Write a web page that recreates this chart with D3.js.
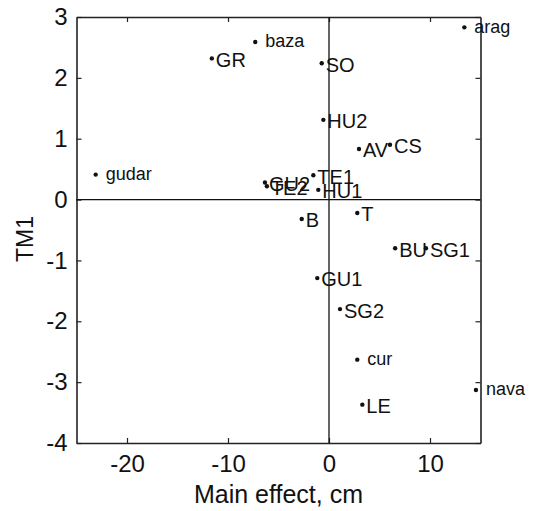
<!DOCTYPE html>
<html lang="en">
<head>
	<meta charset="utf-8">
	<title>TM1 vs main effect</title>
	<script src="https://d3js.org/d3.v7.min.js" charset="utf-8"></script>
	<style>
		body { margin: 0; background: #fff; }
		svg text { font-family: "Liberation Sans", Arial, sans-serif; fill: #111; }
	</style>
</head>
<body>
	<script>
		// site / provenance names, main effect (cm) and TM1 score
		var names   = ["gudar", "GR", "baza", "arag", "SO", "HU2", "AV", "CS", "TE1", "HU1", "GU2", "TE2",
		               "T", "B", "BU", "SG1", "GU1", "SG2", "cur", "LE", "nava"];
		var effects = [-23.1, -11.6, -7.3, 13.4, -0.72, -0.56, 2.97, 6.04, -1.55, -1.06, -6.34, -6.15,
		               2.8, -2.7, 6.55, 9.6, -1.16, 1.09, 2.8, 3.3, 14.55];
		var tm1     = [0.41, 2.32, 2.59, 2.83, 2.24, 1.31, 0.83, 0.90, 0.40, 0.16, 0.28, 0.22,
		               -0.22, -0.32, -0.80, -0.80, -1.29, -1.80, -2.63, -3.37, -3.13];

		var xTicks = [-20, -10, 0, 10];
		var yTicks = [-4, -3, -2, -1, 0, 1, 2, 3];

		var w = 535, h = 511;
		// plot box (window.top is taken, so use pTop etc.)
		var pLeft = 76.5, pRight = 480.5, pTop = 17, pBottom = 443;

		var x = d3.scaleLinear().domain([-25, 15]).range([pLeft, pRight]);
		var y = d3.scaleLinear().domain([-4, 3]).range([pBottom, pTop]);
		var plain = function(d) { return String(d); }; // hyphen minus like the original

		var svg = d3.select("body").append("svg")
			.attr("width", w)
			.attr("height", h);

		// frame ticks on all four sides, pointing inward
		svg.append("g")
			.attr("transform", "translate(0," + pBottom + ")")
			.call(d3.axisBottom(x).tickValues(xTicks).tickFormat(plain).tickSizeInner(-5).tickSizeOuter(0).tickPadding(12));
		svg.append("g")
			.attr("transform", "translate(0," + pTop + ")")
			.call(d3.axisTop(x).tickValues(xTicks).tickSizeInner(-5).tickSizeOuter(0).tickFormat(""));
		svg.append("g")
			.attr("transform", "translate(" + pLeft + ",0)")
			.call(d3.axisLeft(y).tickValues(yTicks).tickFormat(plain).tickSizeInner(-5).tickSizeOuter(0).tickPadding(9));
		svg.append("g")
			.attr("transform", "translate(" + pRight + ",0)")
			.call(d3.axisRight(y).tickValues(yTicks).tickSizeInner(-5).tickSizeOuter(0).tickFormat(""));

		svg.selectAll(".domain").attr("stroke", "#222").attr("stroke-width", 1.6);
		svg.selectAll(".tick line").attr("stroke", "#222").attr("stroke-width", 1.2);
		svg.selectAll(".tick text").attr("font-size", 24).attr("fill", "#111")
			.attr("font-family", "'Liberation Sans', Arial, sans-serif");

		// zero reference lines
		svg.append("line")
			.attr("x1", x(0)).attr("x2", x(0))
			.attr("y1", y(-4)).attr("y2", y(3))
			.attr("stroke", "#111").attr("stroke-width", 1.3);
		svg.append("line")
			.attr("x1", x(-25)).attr("x2", x(15))
			.attr("y1", y(0)).attr("y2", y(0))
			.attr("stroke", "#111").attr("stroke-width", 1.3);

		var pts = names.map(function(n, i) {
			return { name: n, fx: effects[i], ty: tm1[i], lower: n === n.toLowerCase() };
		});

		svg.selectAll("circle")
			.data(pts)
			.enter()
			.append("circle")
			.attr("cx", function(d) { return x(d.fx); })
			.attr("cy", function(d) { return y(d.ty); })
			.attr("r", 2.2)
			.attr("fill", "#111");

		// lower-case sites are set a bit smaller and further off the dot
		svg.selectAll("text.lab")
			.data(pts)
			.enter()
			.append("text")
			.attr("class", "lab")
			.attr("x", function(d) { return x(d.fx) + (d.lower ? 10 : 4); })
			.attr("y", function(d) { return y(d.ty); })
			.attr("dy", function(d) { return d.lower ? "0.3em" : "0.42em"; })
			.attr("font-size", function(d) { return d.lower ? 18 : 20; })
			.text(function(d) { return d.name; });

		svg.append("text")
			.attr("text-anchor", "middle")
			.attr("x", (pLeft + pRight) / 2)
			.attr("y", 503)
			.attr("font-size", 25)
			.text("Main effect, cm");

		svg.append("text")
			.attr("text-anchor", "middle")
			.attr("font-size", 23)
			.attr("transform", "translate(33,239) rotate(-90)")
			.text("TM1");
	</script>
</body>
</html>
